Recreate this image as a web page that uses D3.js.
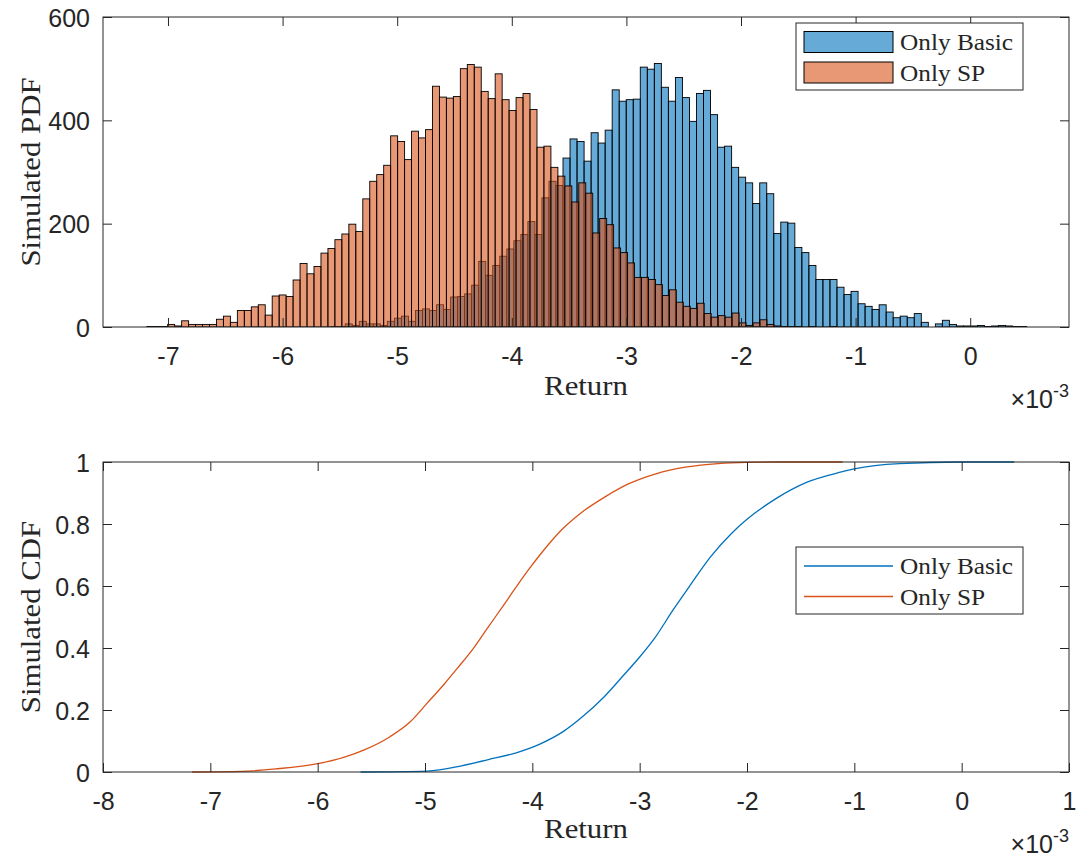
<!DOCTYPE html>
<html><head><meta charset="utf-8">
<script src="https://cdn.jsdelivr.net/npm/d3@7"></script>
<style>
body{margin:0;background:#fff}
svg{display:block}
.tl{font-family:"Liberation Sans",Arial,Helvetica,sans-serif;font-size:25px;fill:#262626}
.tex{font-family:"Liberation Serif","Times New Roman",serif;fill:#262626}
</style></head><body>
<svg id="chart" width="1078" height="861"></svg>
<script>
// ---- data (returns in units of 1e-3) ----
const seriesNames = ["Only Basic", "Only SP"];
const pdfXDomain = [-7.567, 0.862];
const pdfXTicks = [-7, -6, -5, -4, -3, -2, -1, 0];
const pdfYTicks = [0, 200, 400, 600];
const cdfXTicks = [-8, -7, -6, -5, -4, -3, -2, -1, 0, 1];
const cdfYTicks = [0, 0.2, 0.4, 0.6, 0.8, 1];

const basicStart = -5.576, basicBinWidth = 0.0613;
const basicCounts = [1,1,6,3,11,6,6,3,11,17,21,11,32,35,32,43,34,58,59,64,81,127,100,119,137,151,167,179,204,179,250,
  282,274,327,364,359,321,376,356,381,459,437,440,441,503,499,510,464,437,483,444,398,452,458,411,348,350,309,290,279,239,279,258,
  181,203,201,154,144,119,92,92,92,77,63,69,45,40,34,43,29,18,21,18,26,9,0,6,13,5,2,2,2,3,1,2,3,2,1,1];

const spStart = -7.185, spBinWidth = 0.0608;
const spCounts = [1,1,1,5,2,12,5,5,5,5,15,21,9,32,32,39,43,23,60,62,59,91,123,103,117,
  143,152,169,180,199,185,248,282,295,313,370,359,324,379,366,382,466,445,443,446,500,508,503,456,442,490,440,419,444,452,421,348,
  350,309,292,273,242,279,259,182,210,198,153,144,124,96,96,92,82,61,72,48,40,36,46,26,19,22,19,27,8,3,8,14,5,
  2,1,1,1,0,1,0,0,1];

const basicCdfX = [-5.60,-4.98,-4.66,-4.41,-4.15,-3.93,-3.71,-3.52,-3.33,-3.15,-3.0,-2.85,-2.69,-2.53,-2.34,-2.14,-2.0,-1.73,-1.44,-1.12,-1.0,-0.58,0,0.49];
const basicCdfY = [0,0.003,0.02,0.04,0.062,0.09,0.131,0.182,0.243,0.312,0.371,0.437,0.522,0.602,0.694,0.771,0.815,0.882,0.935,0.968,0.978,0.995,1.0,1.0];
const spCdfX = [-7.17,-6.71,-6.39,-6.0,-5.75,-5.56,-5.33,-5.14,-4.98,-4.82,-4.70,-4.54,-4.41,-4.28,-4.15,-4.03,-3.93,-3.84,-3.71,-3.55,-3.33,-3.10,-2.85,-2.56,-2.27,-2.0,-1.70,-1.11];
const spCdfY = [0,0.002,0.01,0.027,0.048,0.072,0.113,0.161,0.222,0.284,0.334,0.403,0.468,0.532,0.597,0.655,0.70,0.738,0.787,0.835,0.886,0.930,0.962,0.984,0.995,0.999,1.0,1.0];

// ---- layout ----
const L = 103, R = 1069;
const T1 = 17, B1 = 327, T2 = 462, B2 = 772;
const TK = 9;
const AX = "#262626";
const blue = "#0072BD", orange = "#D95319";
const svg = d3.select("#chart");

const xPdf = d3.scaleLinear().domain(pdfXDomain).range([L, R]);
const yPdf = d3.scaleLinear().domain([0, 600]).range([B1, T1]);
const xCdf = d3.scaleLinear().domain([-8, 1]).range([L, R]);
const yCdf = d3.scaleLinear().domain([0, 1]).range([B2, T2]);

function texText(g, str, x, y, size, anchor, rot) {
  return g.append("text").attr("class", "tex")
    .attr("transform", `translate(${x},${y}) rotate(${rot || 0}) scale(1.1,1)`)
    .attr("text-anchor", anchor).attr("font-size", size).text(str);
}

function drawAxes(x, y, xt, yt, top, bottom, fmtY) {
  const g = svg.append("g");
  const ax = g.append("g").attr("transform", `translate(0,${bottom})`)
    .call(d3.axisBottom(x).tickValues(xt).tickSizeInner(-TK).tickSizeOuter(0).tickPadding(20).tickFormat(d => String(d)));
  const axT = g.append("g").attr("transform", `translate(0,${top})`)
    .call(d3.axisTop(x).tickValues(xt).tickSizeInner(-TK).tickSizeOuter(0).tickFormat(""));
  const ay = g.append("g").attr("transform", `translate(${L},0)`)
    .call(d3.axisLeft(y).tickValues(yt).tickSizeInner(-TK).tickSizeOuter(0).tickPadding(13).tickFormat(fmtY));
  const ayR = g.append("g").attr("transform", `translate(${R},0)`)
    .call(d3.axisRight(y).tickValues(yt).tickSizeInner(-TK).tickSizeOuter(0).tickFormat(""));
  [ax, axT, ay, ayR].forEach(a => {
    a.select(".domain").remove();
    a.selectAll(".tick line").attr("stroke", AX).attr("stroke-width", 1);
    a.selectAll(".tick text").attr("class", "tl").attr("font-size", null).attr("font-family", null).attr("fill", AX);
  });
  ay.selectAll(".tick text").attr("dy", "0.36em");
  g.append("rect").attr("x", L).attr("y", top).attr("width", R - L).attr("height", bottom - top)
    .attr("fill", "none").attr("stroke", AX).attr("stroke-width", 1);
  return g;
}

// ---- top: histogram ----
svg.append("clipPath").attr("id", "c1").append("rect").attr("x", L).attr("y", T1).attr("width", R - L).attr("height", B1 - T1);
const hist = svg.append("g").attr("clip-path", "url(#c1)");
function bars(counts, start, w, color) {
  const bins = counts.map((c, i) => ({x0: start + i * w, x1: start + (i + 1) * w, c})).filter(d => d.c > 0);
  hist.append("g").selectAll("rect").data(bins).join("rect")
    .attr("x", d => xPdf(d.x0)).attr("width", d => xPdf(d.x1) - xPdf(d.x0))
    .attr("y", d => yPdf(d.c)).attr("height", d => yPdf(0) - yPdf(d.c))
    .attr("fill", color).attr("fill-opacity", 0.6)
    .attr("stroke", "#000").attr("stroke-width", 0.9);
}
bars(basicCounts, basicStart, basicBinWidth, blue);
bars(spCounts, spStart, spBinWidth, orange);
drawAxes(xPdf, yPdf, pdfXTicks, pdfYTicks, T1, B1, d => String(d));

// ---- bottom: CDF ----
svg.append("clipPath").attr("id", "c2").append("rect").attr("x", L).attr("y", T2 - 2).attr("width", R - L).attr("height", B2 - T2 + 4);
const line = d3.line().x(d => xCdf(d[0])).y(d => yCdf(d[1])).curve(d3.curveMonotoneX);
const cdfG = svg.append("g").attr("clip-path", "url(#c2)");
cdfG.append("path").attr("d", line(d3.zip(basicCdfX, basicCdfY))).attr("fill", "none").attr("stroke", blue).attr("stroke-width", 1.3);
cdfG.append("path").attr("d", line(d3.zip(spCdfX, spCdfY))).attr("fill", "none").attr("stroke", orange).attr("stroke-width", 1.3);
drawAxes(xCdf, yCdf, cdfXTicks, cdfYTicks, T2, B2, d => String(d));

// ---- labels ----
const lab = svg.append("g");
texText(lab, "Return", (L + R) / 2, 395, 28, "middle");
texText(lab, "Return", (L + R) / 2, 838, 28, "middle");
texText(lab, "Simulated PDF", 40, (T1 + B1) / 2, 28, "middle", -90);
texText(lab, "Simulated CDF", 40, (T2 + B2) / 2, 28, "middle", -90);

function expo(yb) {
  const t = lab.append("text").attr("class", "tl").attr("x", R).attr("y", yb).attr("text-anchor", "end");
  t.append("tspan").text("\u00D710");
  t.append("tspan").attr("font-size", 18).attr("dy", -11).text("-3");
}
expo(408);
expo(853);

// ---- legends ----
function legend(y0, isLine) {
  const g = svg.append("g");
  g.append("rect").attr("x", 796).attr("y", y0).attr("width", 227).attr("height", 67)
    .attr("fill", "#fff").attr("stroke", AX).attr("stroke-width", 1);
  [blue, orange].forEach((c, i) => {
    const cy = y0 + 19 + i * 30.5;
    if (isLine) {
      g.append("line").attr("x1", 804).attr("x2", 893).attr("y1", cy).attr("y2", cy).attr("stroke", c).attr("stroke-width", 1.3);
    } else {
      g.append("rect").attr("x", 804).attr("y", cy - 10.5).attr("width", 89).attr("height", 21)
        .attr("fill", c).attr("fill-opacity", 0.6).attr("stroke", "#000").attr("stroke-width", 1);
    }
    texText(g, seriesNames[i], 900, cy + 8, 23, "start");
  });
}
legend(23, false);
legend(547, true);
</script>
</body></html>
